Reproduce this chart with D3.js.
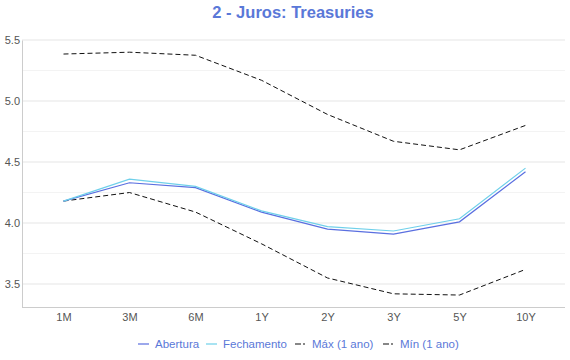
<!DOCTYPE html>
<html><head><meta charset="utf-8">
<script src="https://cdn.jsdelivr.net/npm/d3@7"></script>
<style>body{margin:0;background:#fff;} svg{display:block;font-family:"Liberation Sans",Arial,sans-serif;}</style>
</head><body>
<svg id="c" width="570" height="360"></svg>
<script>
const categories = ["1M","3M","6M","1Y","2Y","3Y","5Y","10Y"];
const abertura   = [4.18,4.33,4.29,4.09,3.95,3.91,4.01,4.42];
const fechamento = [4.18,4.36,4.30,4.10,3.97,3.935,4.035,4.45];
const maxAno     = [5.385,5.40,5.375,5.17,4.89,4.67,4.60,4.80];
const minAno     = [4.18,4.25,4.09,3.83,3.55,3.42,3.41,3.62];
const yTicks = [3.5,4.0,4.5,5.0,5.5];
const yMinor = [3.25,3.75,4.25,4.75,5.25];
const seriesNames = ["Abertura","Fechamento","Máx (1 ano)","Mín (1 ano)"];

const svg = d3.select("#c");
const pLeft = 22, pRight = 565, pTop = 40, pBottom = 307;
const x = d3.scalePoint().domain(categories).range([63.5, 525.5]);
const y = d3.scaleLinear().domain([3.312, 5.5]).range([pBottom, pTop]);

svg.append("g").selectAll("line").data(yMinor.filter(d => d > 3.312)).join("line")
  .attr("x1", pLeft).attr("x2", pRight).attr("y1", d=>y(d)).attr("y2", d=>y(d))
  .attr("stroke", "#f3f3f3").attr("stroke-width", 1);
svg.append("g").selectAll("line").data(yTicks).join("line")
  .attr("x1", pLeft).attr("x2", pRight).attr("y1", d=>y(d)).attr("y2", d=>y(d))
  .attr("stroke", "#eeeeee").attr("stroke-width", 1.5);

const ya = svg.append("g").attr("transform", `translate(${pLeft},0)`)
  .call(d3.axisLeft(y).tickValues(yTicks).tickFormat(d3.format(".1f")).tickSize(0).tickPadding(3));
ya.select(".domain").attr("stroke", "#cccccc");
ya.selectAll("text").attr("fill", "#555").attr("font-size", 11).attr("font-family", "Liberation Sans, Arial, sans-serif");
ya.selectAll("text").attr("x", -2);

const xa = svg.append("g").attr("transform", `translate(0,${pBottom})`)
  .call(d3.axisBottom(x).tickSize(0).tickPadding(6));
xa.select(".domain").attr("d", `M${pLeft},0.5H${pRight}`).attr("stroke", "#cccccc");
xa.selectAll("text").attr("fill", "#555").attr("font-size", 11).attr("font-family", "Liberation Sans, Arial, sans-serif");

const line = d3.line().x((d,i)=>x(categories[i])).y(d=>y(d));
const styles = [
  {data: maxAno, color: "#111", dash: "5,3", w: 1},
  {data: minAno, color: "#111", dash: "5,3", w: 1},
  {data: abertura, color: "#5a6fe0", dash: null, w: 1.2},
  {data: fechamento, color: "#6fd0ea", dash: null, w: 1.2}
];
styles.forEach(s => {
  svg.append("path").datum(s.data).attr("d", line)
    .attr("fill", "none").attr("stroke", s.color).attr("stroke-width", s.w)
    .attr("stroke-dasharray", s.dash);
});

svg.append("text").attr("x", 293).attr("y", 18).attr("text-anchor", "middle")
  .attr("font-size", 16.5).attr("font-weight", "bold").attr("fill", "#5a78d8")
  .text("2 - Juros: Treasuries");

const legendItems = [
  {name: seriesNames[0], color: "#5a6fe0", dash: null, x: 138},
  {name: seriesNames[1], color: "#6fd0ea", dash: null, x: 206},
  {name: seriesNames[2], color: "#111", dash: "6,2,2,2", x: 295},
  {name: seriesNames[3], color: "#111", dash: "6,2,2,2", x: 383}
];
const lg = svg.append("g");
legendItems.forEach(it => {
  lg.append("line").attr("x1", it.x).attr("x2", it.x + 11).attr("y1", 344).attr("y2", 344)
    .attr("stroke", it.color).attr("stroke-width", 1.2).attr("stroke-dasharray", it.dash);
  lg.append("text").attr("x", it.x + 17).attr("y", 348).attr("font-size", 11.5)
    .attr("fill", "#5a78d8").text(it.name);
});
</script>
</body></html>
